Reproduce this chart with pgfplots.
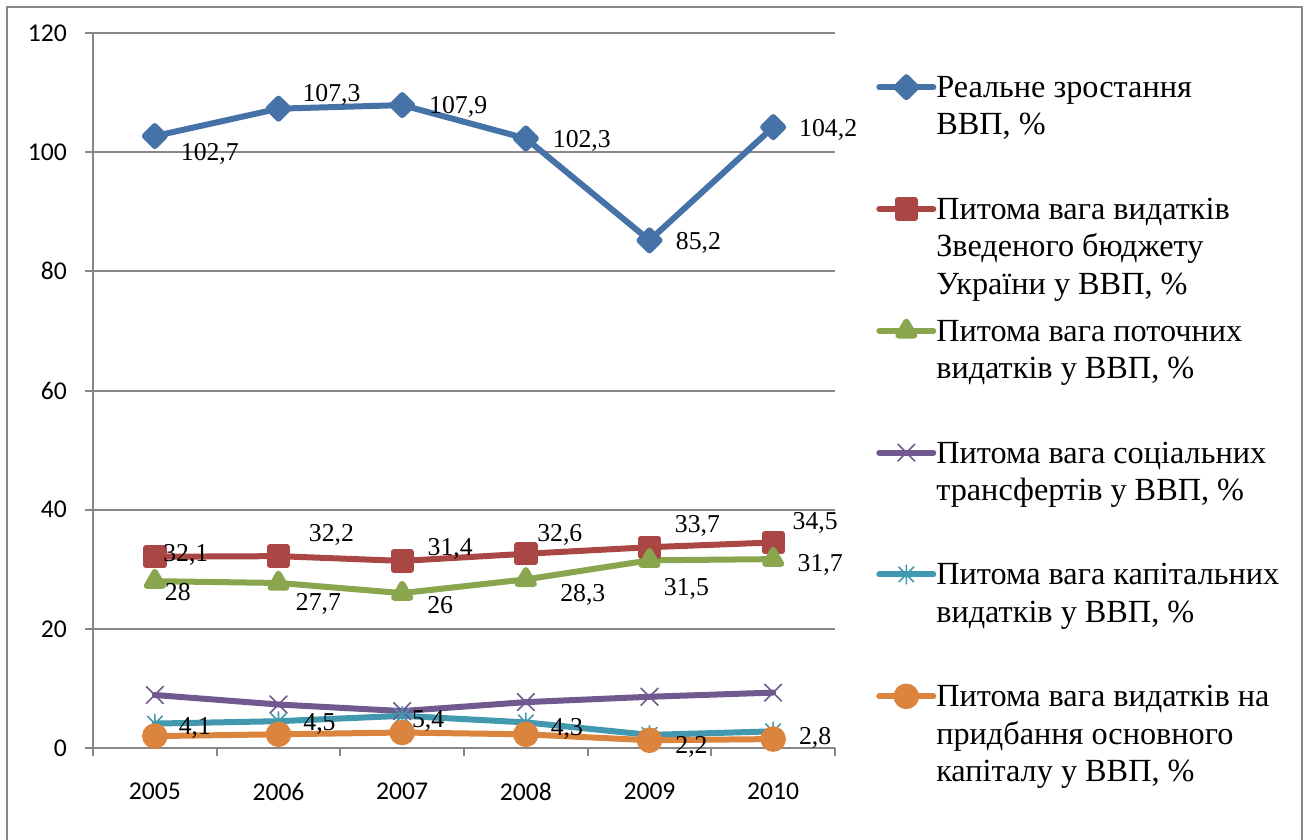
\documentclass[border=0pt]{standalone}
\usepackage{fontspec}
\setmainfont{Liberation Serif}
\newfontfamily\tickfont{Carlito}
\usepackage{pgfplots}
\usepackage{pgfplotstable}
\pgfplotsset{compat=1.18}
\definecolor{cBlue}{HTML}{4572A7}
\definecolor{cRed}{HTML}{AA4643}
\definecolor{cGreen}{HTML}{89A54E}
\definecolor{cPurple}{HTML}{71588F}
\definecolor{cCyan}{HTML}{4198AF}
\definecolor{cOrange}{HTML}{DB843D}
\definecolor{gridgray}{HTML}{878787}

\newcommand\lb[3]{\raisebox{\dimexpr #2pt*3/4 - 6.4pt\relax}[0pt][0pt]{\makebox[0pt][c]{\hspace*{\dimexpr #1pt*3/2\relax}#3}}}

\pgfdeclareplotmark{xlstar}{%
  \pgfpathmoveto{\pgfqpoint{0pt}{\pgfplotmarksize}}\pgfpathlineto{\pgfqpoint{0pt}{-\pgfplotmarksize}}%
  \pgfpathmoveto{\pgfqpoint{-.8\pgfplotmarksize}{-.8\pgfplotmarksize}}\pgfpathlineto{\pgfqpoint{.8\pgfplotmarksize}{.8\pgfplotmarksize}}%
  \pgfpathmoveto{\pgfqpoint{-.8\pgfplotmarksize}{.8\pgfplotmarksize}}\pgfpathlineto{\pgfqpoint{.8\pgfplotmarksize}{-.8\pgfplotmarksize}}%
  \pgfusepathqstroke}

\pgfplotstableread{
x y lbl
2005 102.7 \lb{55}{-16}{102,7}
2006 107.3 \lb{53}{16}{107,3}
2007 107.9 \lb{56}{0}{107,9}
2008 102.3 \lb{56}{-1}{102,3}
2009 85.2 \lb{49}{-1}{85,2}
2010 104.2 \lb{55}{-1}{104,2}
}\tblue
\pgfplotstableread{
x y lbl
2005 32.1 \lb{31}{4}{32,1}
2006 32.2 \lb{53}{23}{32,2}
2007 31.4 \lb{48}{14}{31,4}
2008 32.6 \lb{34}{21}{32,6}
2009 33.7 \lb{48}{23}{33,7}
2010 34.5 \lb{42}{21}{34,5}
}\tred
\pgfplotstableread{
x y lbl
2005 28 \lb{23}{-11}{28}
2006 27.7 \lb{40}{-19}{27,7}
2007 26 \lb{38}{-12}{26}
2008 28.3 \lb{57}{-14}{28,3}
2009 31.5 \lb{37}{-27}{31,5}
2010 31.7 \lb{47}{-4}{31,7}
}\tgreen
\pgfplotstableread{
x y
2005 8.9
2006 7.3
2007 6.2
2008 7.7
2009 8.6
2010 9.3
}\tpurple
\pgfplotstableread{
x y lbl
2005 4.1 \lb{40}{-2}{4,1}
2006 4.5 \lb{41}{-1}{4,5}
2007 5.4 \lb{26}{-3}{5,4}
2008 4.3 \lb{41}{-5}{4,3}
2009 2.2 \lb{42}{-10}{2,2}
2010 2.8 \lb{42}{-5}{2,8}
}\tcyan
\pgfplotstableread{
x y
2005 2.0
2006 2.3
2007 2.6
2008 2.3
2009 1.3
2010 1.5
}\torange

\pgfplotsset{
  lab/.style={
    forget plot, draw=none, no markers,
    nodes near coords, point meta=explicit symbolic,
    every node near coord/.append style={anchor=center, inner sep=0pt,
      font=\fontsize{19.3}{22}\selectfont, text=black}
  },
  ser/.style={line width=4.5pt, line cap=round, line join=round, color=#1,
    mark options={solid, fill=#1, draw=#1}}
}

\begin{document}
\begin{tikzpicture}
\useasboundingbox (0,0) rectangle (981.75pt,-629.25pt);
\begin{scope}
\clip (0,0) rectangle (981.75pt,-629.25pt);
\fill[white] (0,0) rectangle (981.75pt,-629.25pt);
\draw[gridgray, line width=1.5pt] (5.25pt,-5.25pt) rectangle (976.5pt,-660pt);
\end{scope}
\begin{axis}[
  at={(69.75pt,-561pt)}, anchor=south west,
  scale only axis, width=556.5pt, height=536.25pt,
  xmin=2004.5, xmax=2010.5, ymin=0, ymax=120,
  xtick={2005,2006,2007,2008,2009,2010},
  xticklabels={2005,2006,2007,2008,2009,2010},
  minor xtick={2004.5,2005.5,2006.5,2007.5,2008.5,2009.5,2010.5},
  ytick={0,20,40,60,80,100,120},
  axis lines*=left,
  axis line style={-, draw=gridgray, line width=1.5pt},
  tick align=outside,
  major tick length=6pt, minor tick length=6pt,
  tick style={gridgray, line width=1.5pt},
  major x tick style={draw=none},
  ymajorgrids,
  major grid style={gridgray, line width=1.5pt},
  /pgf/number format/assume math mode=true,
  ticklabel style={font=\tickfont\fontsize{19.2}{23}\selectfont, inner sep=0pt},
  yticklabel style={anchor=east, xshift=-13.5pt},
  xticklabel style={anchor=north, yshift=-20.25pt},
  clip=false,
  legend style={at={(1.0553,0.9385)}, anchor=north west, draw=none, fill=none,
    inner sep=0pt, row sep=0pt, column sep=0pt,
    font=\fontsize{24.2}{28}\selectfont,
    nodes={anchor=base west, inner sep=0pt, yshift=-7.8pt, text height=15pt, text depth=76.35pt}},
  legend image code/.code={\draw[mark repeat=2,mark phase=2,#1] plot coordinates {(0pt,0pt) (20.25pt,0pt) (40.5pt,0pt)};},
]
\addplot[ser=cBlue, mark=square*, mark size=5.3pt, mark options={rotate=45}] table[x=x,y=y]{\tblue};
\addlegendentry{\parbox[t]{300pt}{Реальне зростання\\ВВП, \%}}
\addplot[ser=cRed, mark=square*, mark size=6.5pt] table[x=x,y=y]{\tred};
\addlegendentry{\parbox[t]{300pt}{Питома вага видатків\\Зведеного бюджету\\України у ВВП, \%}}
\addplot[ser=cGreen, mark=triangle*, mark size=7pt] table[x=x,y=y]{\tgreen};
\addlegendentry{\parbox[t]{300pt}{Питома вага поточних\\видатків у ВВП, \%}}
\addplot[ser=cPurple, mark=x, mark size=9pt, mark options={line width=1.2pt}] table[x=x,y=y]{\tpurple};
\addlegendentry{\parbox[t]{300pt}{Питома вага соціальних\\трансфертів у ВВП, \%}}
\addplot[ser=cCyan, mark=xlstar, mark size=7pt, mark options={line width=1.2pt}] table[x=x,y=y]{\tcyan};
\addlegendentry{\parbox[t]{300pt}{Питома вага капітальних\\видатків у ВВП, \%}}
\addplot[ser=cOrange, mark=*, mark size=7.3pt] table[x=x,y=y]{\torange};
\addlegendentry{\parbox[t]{300pt}{Питома вага видатків на\\придбання основного\\капіталу у ВВП, \%}}
\addplot[lab] table[x=x,y=y,meta=lbl]{\tblue};
\addplot[lab] table[x=x,y=y,meta=lbl]{\tred};
\addplot[lab] table[x=x,y=y,meta=lbl]{\tgreen};
\addplot[lab] table[x=x,y=y,meta=lbl]{\tcyan};
\end{axis}
\end{tikzpicture}
\end{document}
